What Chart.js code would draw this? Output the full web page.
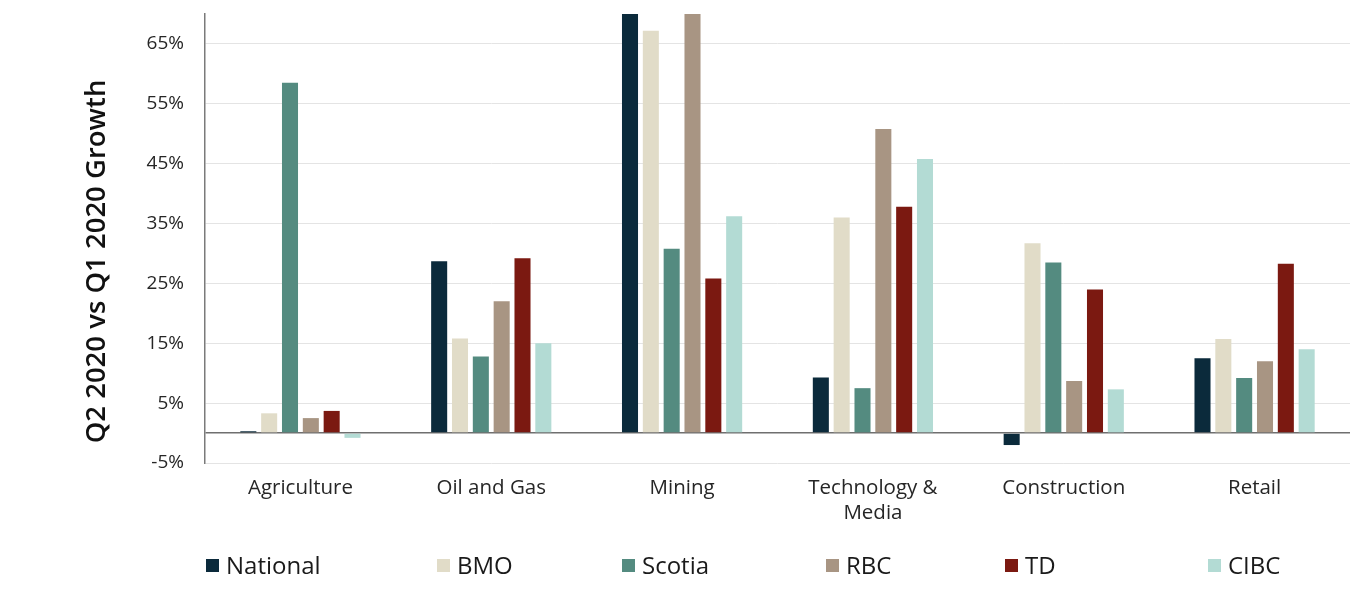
<!DOCTYPE html>
<html>
<head>
<meta charset="utf-8">
<script src="https://cdn.jsdelivr.net/npm/chart.js@4"></script>
<style>
  html, body { margin: 0; padding: 0; background: #fff; }
  #wrap { position: relative; width: 1370px; height: 592px; overflow: hidden; }
  #chartBox { position: absolute; left: 0; top: 0; width: 1370px; height: 592px; }
  #legend {
    position: absolute; left: 206px; top: 547px; height: 34px;
    display: grid; grid-template-columns: 231px 185px 204px 179px 203px auto;
    font-family: 'Open Sans', sans-serif; font-size: 24px; color: #1a1a1a;
  }
  .item { display: flex; align-items: center; white-space: nowrap; }
  .sw { width: 13px; height: 13px; margin-right: 7px; margin-top: 3px; }
</style>
</head>
<body>
<div id="wrap">
  <div id="chartBox"><canvas id="c"></canvas></div>
  <div id="legend"></div>
</div>
<script>
const categories = ['Agriculture', 'Oil and Gas', 'Mining', ['Technology &', 'Media'], 'Construction', 'Retail'];
const seriesNames = ['National', 'BMO', 'Scotia', 'RBC', 'TD', 'CIBC'];
const national = [0.3, 28.7, 70, 9.3, -2.0, 12.5];
const bmo      = [3.3, 15.8, 67.2, 36.0, 31.7, 15.7];
const scotia   = [58.5, 12.8, 30.8, 7.5, 28.5, 9.2];
const rbc      = [2.5, 22.0, 70, 50.8, 8.7, 12.0];
const td       = [3.7, 29.2, 25.8, 37.8, 24.0, 28.3];
const cibc     = [-0.8, 15.0, 36.2, 45.8, 7.3, 14.0];
const tickValues = [-5, 0, 5, 15, 25, 35, 45, 55, 65];
const yMin = -5, yMax = 70;
const yTitle = 'Q2 2020 vs Q1 2020 Growth';

const colors = ['#0b2a3b', '#e1dcc8', '#548b80', '#a89583', '#7b1911', '#b3dbd4'];
const seriesValues = [national, bmo, scotia, rbc, td, cibc];

const FONT = "'Open Sans', sans-serif";

// Y-axis title drawn slightly below the axis centre, as in the original
const yTitlePlugin = {
  id: 'yTitlePlugin',
  afterDraw(chart) {
    const { ctx, chartArea } = chart;
    const cx = 97;
    const cy = (chartArea.top + chartArea.bottom) / 2 + 23;
    ctx.save();
    ctx.translate(cx, cy);
    ctx.rotate(-Math.PI / 2);
    ctx.font = "600 27.5px " + FONT;
    ctx.fillStyle = '#111';
    ctx.textAlign = 'center';
    ctx.textBaseline = 'middle';
    ctx.fillText(yTitle, 0, 0);
    ctx.restore();
  }
};

const chart = new Chart(document.getElementById('c'), {
  type: 'bar',
  data: {
    labels: categories,
    datasets: seriesNames.map((name, i) => ({
      label: name,
      data: seriesValues[i],
      backgroundColor: colors[i],
      borderWidth: 0,
      categoryPercentage: 0.655,
      barPercentage: 0.77
    }))
  },
  plugins: [yTitlePlugin],
  options: {
    responsive: true,
    maintainAspectRatio: false,
    animation: false,
    layout: { padding: { left: 81, right: 20, top: 14, bottom: 0 } },
    plugins: {
      legend: { display: false },
      tooltip: { enabled: false }
    },
    scales: {
      x: {
        grid: { display: false, drawTicks: false },
        border: { display: false },
        ticks: {
          color: '#262626',
          padding: 13,
          maxRotation: 0,
          autoSkip: false,
          font: { family: FONT, size: 20.5 }
        },
        afterFit: (s) => { s.height = 129; s.paddingLeft = 0; s.paddingRight = 0; }
      },
      y: {
        min: yMin,
        max: yMax,
        afterBuildTicks: (s) => { s.ticks = tickValues.map(v => ({ value: v })); },
        afterFit: (s) => { s.width = 124; s.paddingTop = 0; s.paddingBottom = 0; },
        grid: {
          drawTicks: false,
          color: (ctx) => (ctx.tick && ctx.tick.value === 0) ? '#6f6f6f' : '#e4e4e4',
          lineWidth: (ctx) => (ctx.tick && ctx.tick.value === 0) ? 1.5 : 1
        },
        border: { display: true, color: '#7a7a7a', width: 1.5 },
        ticks: {
          color: '#262626',
          padding: 21,
          font: { family: FONT, size: 19 },
          callback: (v) => v === 0 ? '' : v + '%'
        },
        title: { display: false, text: yTitle }
      }
    }
  }
});

const legendEl = document.getElementById('legend');
chart.data.datasets.forEach((ds) => {
  const item = document.createElement('div');
  item.className = 'item';
  const sw = document.createElement('span');
  sw.className = 'sw';
  sw.style.background = ds.backgroundColor;
  const tx = document.createElement('span');
  tx.textContent = ds.label;
  item.appendChild(sw);
  item.appendChild(tx);
  legendEl.appendChild(item);
});
</script>
</body>
</html>
